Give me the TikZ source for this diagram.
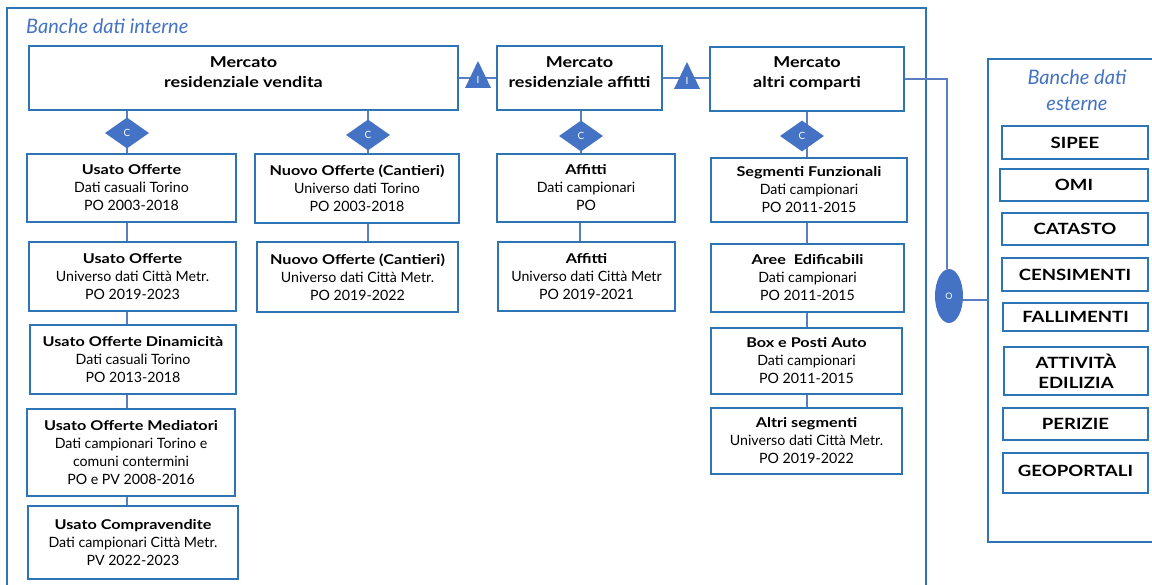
\documentclass[tikz,border=0pt]{standalone}
\usepackage{fontspec}
\setmainfont{Lato}[BoldFeatures={FakeStretch=1.2}]
\usetikzlibrary{shapes.geometric}
\definecolor{bord}{HTML}{2E75B6}
\definecolor{fillb}{HTML}{4472C4}
\definecolor{connc}{HTML}{5A7EC0}
\definecolor{titc}{HTML}{4472C4}
\newcommand\bhead[1]{{\fontsize{13.5}{18}\selectfont\bfseries #1}}
\begin{document}
\begin{tikzpicture}[x=1pt,y=-1pt,
  box/.style={draw=bord, line width=1.5pt, fill=white, align=center, inner sep=0pt,
    font=\fontsize{14.2}{18}\selectfont},
  hbox/.style={draw=bord, line width=1.5pt, fill=white, inner sep=0pt},
  htext/.style={align=center, inner sep=0pt, font=\bfseries\fontsize{15}{20}\selectfont},
  xbox/.style={draw=bord, line width=1.5pt, fill=white, align=center, inner sep=0pt,
    font=\bfseries\fontsize{15.5}{20}\selectfont},
  connl/.style={draw=connc, line width=1.2pt},
  frame/.style={draw=bord, line width=1.4pt},
  dia/.style={diamond, fill=fillb, minimum width=44pt, minimum height=31pt, inner sep=0pt,
    text=white, font=\fontsize{10}{10}\selectfont},
  tril/.style={text=white, inner sep=0pt, font=\fontsize{10}{10}\selectfont},
  ovl/.style={ellipse, fill=fillb, minimum width=28pt, minimum height=54pt, inner sep=0pt,
    text=white, font=\fontsize{9}{10}\selectfont},
  title/.style={text=titc, font=\itshape\fontsize{20}{26}\selectfont, inner sep=0pt, align=center}
]
\useasboundingbox (0,0) rectangle (1152,585);
\fill[white] (0,0) rectangle (1152,585);

% frames
\draw[frame] (7,590) -- (7,8) -- (926,8) -- (926,590);
\draw[frame] (1160,59) -- (988,59) -- (988,542) -- (1160,542);
\node[title, anchor=west] (tint) at (26,26) {Banche dati interne};
\node[title] (text) at (1077,90) {Banche dati\\esterne};

% header boxes
\node[hbox, minimum width=429pt, minimum height=64pt] (mv) at (243.5,78) {};
\node[htext] (mvt) at (243.5,72) {Mercato\\residenziale vendita};
\node[hbox, minimum width=165pt, minimum height=64pt] (ma) at (579.5,78) {};
\node[htext] (mat) at (579.5,72) {Mercato\\residenziale affitti};
\node[hbox, minimum width=194pt, minimum height=64pt] (mc) at (807,79) {};
\node[htext] (mct) at (807,73) {Mercato\\altri comparti};

% column 1
\node[box, minimum width=209pt, minimum height=68pt] (a1) at (131.5,188) {\bhead{Usato Offerte}\\Dati casuali Torino\\PO 2003-2018};
\node[box, minimum width=207pt, minimum height=69pt] (a2) at (132.5,276.5) {\bhead{Usato Offerte}\\Universo dati Città Metr.\\PO 2019-2023};
\node[box, minimum width=206pt, minimum height=69pt] (a3) at (133,359.5) {\bhead{Usato Offerte Dinamicità}\\Dati casuali Torino\\PO 2013-2018};
\node[box, minimum width=208pt, minimum height=87pt] (a4) at (131,452.5) {\bhead{Usato Offerte Mediatori}\\Dati campionari Torino e\\comuni contermini\\PO e PV 2008-2016};
\node[box, minimum width=210pt, minimum height=73pt] (a5) at (133,542.5) {\bhead{Usato Compravendite}\\Dati campionari Città Metr.\\PV 2022-2023};

% column 2
\node[box, minimum width=204pt, minimum height=69pt] (b1) at (357,188.5) {\bhead{Nuovo Offerte (Cantieri)}\\Universo dati Torino\\PO 2003-2018};
\node[box, minimum width=201pt, minimum height=70pt] (b2) at (357.5,277) {\bhead{Nuovo Offerte (Cantieri)}\\Universo dati Città Metr.\\PO 2019-2022};

% column 3
\node[box, minimum width=178pt, minimum height=68pt] (c1) at (586,188) {\bhead{Affitti}\\Dati campionari\\PO};
\node[box, minimum width=177pt, minimum height=69pt] (c2) at (586.5,276.5) {\bhead{Affitti}\\Universo dati Città Metr\\PO 2019-2021};

% column 4
\node[box, minimum width=196pt, minimum height=64pt] (e1) at (809,190) {\bhead{Segmenti Funzionali}\\Dati campionari\\PO 2011-2015};
\node[box, minimum width=193pt, minimum height=68pt] (e2) at (807.5,278) {\bhead{Aree\ \ Edificabili}\\Dati campionari\\PO 2011-2015};
\node[box, minimum width=191pt, minimum height=66pt] (e3) at (806.5,361) {\bhead{Box e Posti Auto}\\Dati campionari\\PO 2011-2015};
\node[box, minimum width=191pt, minimum height=66pt] (e4) at (806.5,441) {\bhead{Altri segmenti}\\Universo dati Città Metr.\\PO 2019-2022};

% external
\node[xbox, minimum width=146pt, minimum height=33pt] (x1) at (1075,142.5) {SIPEE};
\node[xbox, minimum width=148pt, minimum height=32pt] (x2) at (1074,185) {OMI};
\node[xbox, minimum width=146pt, minimum height=32pt] (x3) at (1075,229) {CATASTO};
\node[xbox, minimum width=146pt, minimum height=33pt] (x4) at (1075,274.5) {CENSIMENTI};
\node[xbox, minimum width=145pt, minimum height=28pt] (x5) at (1075.5,317) {FALLIMENTI};
\node[xbox, minimum width=144pt, minimum height=48pt] (x6) at (1076,371) {ATTIVITÀ\\EDILIZIA};
\node[xbox, minimum width=145pt, minimum height=32pt] (x7) at (1075.5,424) {PERIZIE};
\node[xbox, minimum width=145pt, minimum height=40pt] (x8) at (1075.5,473) {\raisebox{4pt}{GEOPORTALI}};

% stacks
\coordinate (k1) at (127,0);
\coordinate (k2) at (368,0);
\coordinate (k3) at (580,0);
\coordinate (k4) at (807,0);

% diamonds
\coordinate (d1c) at (127,133);
\coordinate (d2c) at (368,135);
\coordinate (d3c) at (581,136);
\coordinate (d4c) at (802,136);
\draw[connl] (mv.south -| d1c) -- (d1c) -- (d1c |- a1.north);
\draw[connl] (mv.south -| d2c) -- (d2c) -- (d2c |- b1.north);
\draw[connl] (ma.south -| d3c) -- (d3c) -- (d3c |- c1.north);
\draw[connl] (k4 |- mc.south) -- (k4 |- e1.north);
\node[dia] (d1) at (d1c) {C};
\node[dia] (d2) at (d2c) {C};
\node[dia] (d3) at (d3c) {C};
\node[dia] (d4) at (d4c) {C};

\draw[connl] (k1 |- a1.south) -- (k1 |- a2.north);
\draw[connl] (k1 |- a2.south) -- (k1 |- a3.north);
\draw[connl] (k1 |- a3.south) -- (k1 |- a4.north);
\draw[connl] (k1 |- a4.south) -- (k1 |- a5.north);
\draw[connl] (k2 |- b1.south) -- (k2 |- b2.north);
\draw[connl] (k3 |- c1.south) -- (k3 |- c2.north);
\draw[connl] (k4 |- e1.south) -- (k4 |- e2.north);
\draw[connl] (k4 |- e2.south) -- (k4 |- e3.north);
\draw[connl] (k4 |- e3.south) -- (k4 |- e4.north);

% triangles between headers
\draw[connl] (mv.east |- 0,78) -- (ma.west |- 0,78);
\draw[connl] (ma.east |- 0,78) -- (mc.west |- 0,78);
\fill[fillb] (465,88) -- (478,61) -- (491,88) -- cycle;
\node[tril] (t1) at (478,80) {I};
\fill[fillb] (674,89) -- (687,62) -- (700,89) -- cycle;
\node[tril] (t2) at (687,81) {I};

% link to external
\node[ovl] (ov) at (949,296) {O};
\coordinate (cr) at (947,79);
\draw[connl] (mc.east |- cr) -- (cr) -- (ov.north -| cr);
\draw[connl] (ov.east |- 0,300) -- (988,300);
\end{tikzpicture}
\end{document}
